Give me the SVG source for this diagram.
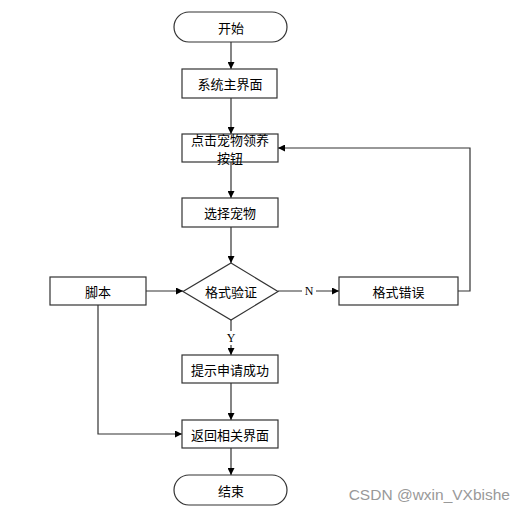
<svg xmlns="http://www.w3.org/2000/svg" width="525" height="512" viewBox="0 0 525 512">
<style>
.box{fill:#fff;stroke:#333;stroke-width:1.2}
.t{font-family:"Noto Sans CJK SC","Liberation Sans",sans-serif;font-size:13px;fill:#000;text-anchor:middle;dominant-baseline:central}
.l{font-family:"Liberation Serif",serif;font-size:12px;fill:#000;text-anchor:middle;dominant-baseline:central}
.c{fill:none;stroke:#333;stroke-width:1.2;marker-end:url(#a)}
</style>
<defs>
<marker id="a" viewBox="0 0 10 10" refX="10" refY="5" markerWidth="7" markerHeight="7" markerUnits="userSpaceOnUse" orient="auto">
<path d="M0,0 L10,5 L0,10 z" fill="#000"/>
</marker>
</defs>
<rect width="525" height="512" fill="#fff"/>
<g id="connectors">
<path class="c" d="M231,42 V69"/>
<path class="c" d="M231,98 V134"/>
<path class="c" d="M231,162 V198"/>
<path class="c" d="M231,227 V263"/>
<path class="c" d="M146,291 H183"/>
<path class="c" d="M278,291 H339"/>
<path class="c" d="M458,291 H470 V148 H278"/>
<path class="c" d="M231,320 V355"/>
<path class="c" d="M231,383 V420"/>
<path class="c" d="M98,305 V434 H182"/>
<path class="c" d="M231,448 V475"/>
<rect x="302" y="284" width="14" height="14" fill="#fff"/>
<text class="l" x="309" y="291">N</text>
<rect x="224" y="331" width="14" height="14" fill="#fff"/>
<text class="l" x="231" y="338">Y</text>
</g>
<g id="start"><rect class="box" x="174" y="12" width="113" height="30" rx="15"/><text class="t" x="231" y="27">开始</text></g>
<g id="main"><rect class="box" x="182" y="69" width="95" height="29"/><text class="t" x="230" y="83.5">系统主界面</text></g>
<g id="click"><rect class="box" x="182" y="134" width="96" height="28"/><text class="t" x="230" y="139.5" font-size="12">点击宠物领养</text><text class="t" x="230" y="157.5" font-size="12">按钮</text></g>
<g id="select"><rect class="box" x="182" y="198" width="96" height="29"/><text class="t" x="230" y="212.5">选择宠物</text></g>
<g id="verify"><polygon class="box" points="231,263 278,291.5 231,320 183,291.5"/><text class="t" x="231" y="291.5">格式验证</text></g>
<g id="script"><rect class="box" x="50" y="277" width="96" height="28"/><text class="t" x="98" y="291">脚本</text></g>
<g id="error"><rect class="box" x="339" y="277" width="119" height="28"/><text class="t" x="398.5" y="291">格式错误</text></g>
<g id="success"><rect class="box" x="182" y="355" width="96" height="28"/><text class="t" x="230" y="369">提示申请成功</text></g>
<g id="back"><rect class="box" x="182" y="420" width="96" height="28"/><text class="t" x="230" y="434">返回相关界面</text></g>
<g id="end"><rect class="box" x="174" y="475" width="113" height="30" rx="15"/><text class="t" x="231" y="490">结束</text></g>
<text x="510" y="494" font-family="Liberation Sans,sans-serif" font-size="15.5" fill="#999" text-anchor="end" dominant-baseline="central">CSDN @wxin_VXbishe</text>
</svg>
